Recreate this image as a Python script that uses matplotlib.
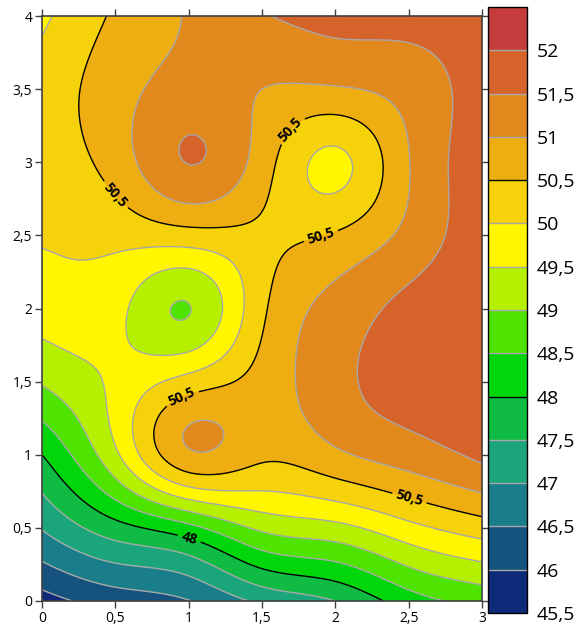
import numpy as np
import matplotlib
matplotlib.use('Agg')
import matplotlib.pyplot as plt

plt.rcParams['font.family'] = ['Open Sans', 'DejaVu Sans']

## data -- values on a 0.5 x 0.5 grid
x_nodes = [0, 0.5, 1, 1.5, 2, 2.5, 3]
y_nodes = [0, 0.5, 1, 1.5, 2, 2.5, 3, 3.5, 4]

z_y00 = [45.80, 46.22, 46.48, 47.10, 47.50, 48.26, 48.65]
z_y05 = [47.03, 47.80, 48.35, 49.10, 49.35, 49.85, 50.25]
z_y10 = [48.00, 49.40, 50.92, 50.60, 50.90, 51.25, 51.60]
z_y15 = [49.05, 49.60, 50.20, 50.70, 51.35, 51.70, 51.80]
z_y20 = [49.72, 49.65, 48.985, 50.40, 51.18, 51.65, 51.90]
z_y25 = [50.04, 50.15, 50.30, 50.40, 50.55, 51.15, 51.85]
z_y30 = [50.20, 50.72, 51.51, 50.75, 49.88, 50.98, 51.80]
z_y35 = [50.20, 50.78, 51.20, 51.00, 50.95, 51.20, 51.75]
z_y40 = [49.90, 50.57, 51.04, 51.46, 51.65, 51.70, 51.80]

levels = [45.5, 46, 46.5, 47, 47.5, 48, 48.5, 49, 49.5, 50, 50.5, 51, 51.5, 52, 52.5]
level_colors = ['#0f2a78', '#15537e', '#1a7d8a', '#1aa57a', '#10bb44', '#00d60a',
                '#4fe300', '#b4f000', '#fff600', '#f5d20a', '#eeae12', '#e2891e',
                '#d6632a', '#c43c3c']
bold_levels = [48, 50.5]

label_pos = [(0.46, 2.74), (1.70, 3.22), (1.91, 2.47), (0.99, 1.31), (2.51, 0.72),
             (0.98, 0.35)]

x_ticks = [0, 0.5, 1, 1.5, 2, 2.5, 3]
x_tick_labels = ['0', '0,5', '1', '1,5', '2', '2,5', '3']
y_ticks = [0, 0.5, 1, 1.5, 2, 2.5, 3, 3.5, 4]
y_tick_labels = ['0', '0,5', '1', '1,5', '2', '2,5', '3', '3,5', '4']

line_gray = '#a8a8a8'


def fmt(v):
    return ('%g' % v).replace('.', ',')


def natural_spline(xn, yn, xf):
    # plain natural cubic spline, evaluated at xf
    xn = np.asarray(xn, float)
    yn = np.asarray(yn, float)
    n = len(xn)
    h = np.diff(xn)
    A = np.zeros((n, n))
    r = np.zeros(n)
    A[0, 0] = A[-1, -1] = 1
    for i in range(1, n-1):
        A[i, i-1] = h[i-1]
        A[i, i] = 2*(h[i-1]+h[i])
        A[i, i+1] = h[i]
        r[i] = 6*((yn[i+1]-yn[i])/h[i] - (yn[i]-yn[i-1])/h[i-1])
    m = np.linalg.solve(A, r)
    k = np.clip(np.searchsorted(xn, xf) - 1, 0, n-2)
    t0 = xn[k+1] - xf
    t1 = xf - xn[k]
    hk = h[k]
    return ((m[k]*t0**3 + m[k+1]*t1**3)/(6*hk)
            + (yn[k]/hk - m[k]*hk/6)*t0 + (yn[k+1]/hk - m[k+1]*hk/6)*t1)


def spline_matrix(xn, xf):
    n = len(xn)
    return np.column_stack([natural_spline(xn, np.eye(n)[j], xf) for j in range(n)])


## smooth surface (tensor product spline through the grid values)
Z = np.array([z_y00, z_y05, z_y10, z_y15, z_y20, z_y25, z_y30, z_y35, z_y40])
xf = np.linspace(0, 3, 301)
yf = np.linspace(0, 4, 401)
Zf = spline_matrix(y_nodes, yf) @ Z @ spline_matrix(x_nodes, xf).T

fig = plt.figure(figsize=(5.86, 6.26), dpi=100)
ax = fig.add_axes([42/586, 25/626, 440/586, 585/626])
cax = fig.add_axes([488/586, 13/626, 39/586, 606/626])

cf = ax.contourf(xf, yf, Zf, levels=levels, colors=level_colors)
thin = [l for l in levels if l not in bold_levels]
ax.contour(xf, yf, Zf, levels=thin, colors=line_gray, linewidths=1.0)
cs = ax.contour(xf, yf, Zf, levels=bold_levels, colors='black', linewidths=1.0)
labels = ax.clabel(cs, manual=label_pos, inline=True, inline_spacing=4, fmt=fmt, fontsize=10)
for t in labels:
    t.set_fontweight('bold')

ax.set_xlim(0, 3)
ax.set_ylim(0, 4)
ax.set_xticks(x_ticks)
ax.set_xticklabels(x_tick_labels)
ax.set_yticks(y_ticks)
ax.set_yticklabels(y_tick_labels)
ax.tick_params(direction='out', top=True, right=True, length=5, width=1,
               color='#404040', labelsize=10, pad=2)
for s in ax.spines.values():
    s.set_color('#404040')
    s.set_linewidth(1.2)

## colour bar
cb = fig.colorbar(cf, cax=cax, ticks=levels[:-1])
cb.outline.set_edgecolor('black')
cb.outline.set_linewidth(1)
for lv in levels[1:-1]:
    cax.axhline(lv, color='black' if lv in bold_levels else line_gray, lw=1)
cax.set_yticklabels([fmt(l) for l in levels[:-1]])
cax.tick_params(length=0, pad=7, labelsize=14)

fig.savefig('out.png', dpi=100)
